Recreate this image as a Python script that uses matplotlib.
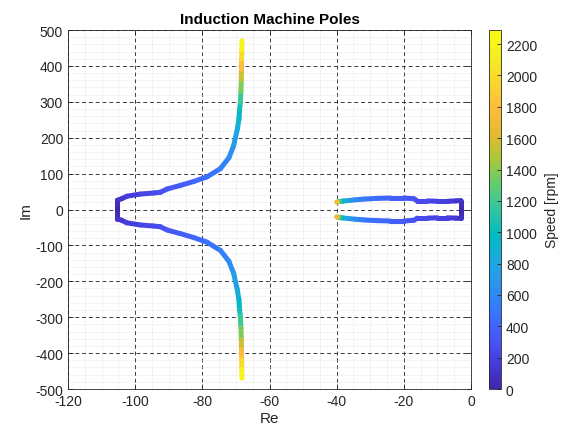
import matplotlib.pyplot as plt
import numpy as np
from matplotlib.collections import LineCollection
from matplotlib.colors import LinearSegmentedColormap, Normalize
from matplotlib.ticker import MultipleLocator

plt.rcParams["font.family"] = ["Liberation Sans", "DejaVu Sans"]
plt.rcParams["axes.unicode_minus"] = False

# upper half of each pole locus (lower half is the conjugate)
stator_re = [-105.3, -105.3, -105.3, -104.0, -102.5, -98.5, -94.5, -92.5, -90.5,
             -86.6, -82.6, -78.6, -74.6, -72.1, -70.7, -69.6, -69.1, -68.9, -68.7,
             -68.5, -68.4, -68.35, -68.3, -68.25, -68.2]
stator_im = [0, 13, 26, 30, 37, 43, 46, 48, 57, 67, 78, 91, 114, 144, 177, 223,
             251, 279, 298, 330, 363, 390, 419, 445, 470]
stator_speed = [0, 40, 80, 110, 150, 200, 240, 270, 310, 350, 400, 450, 520, 600,
                690, 810, 900, 1000, 1100, 1270, 1450, 1650, 1900, 2100, 2290]

rotor_re = [-3.0, -3.0, -3.0, -4.5, -7.0, -10.0, -13.0, -16.0, -17.0, -20.0, -24.0,
            -28.0, -32.0, -34.5, -36.5, -38.2, -39.3, -39.8, -40.0, -40.0]
rotor_im = [0, 12, 25, 24, 23, 23, 24, 24, 30, 32, 32, 31, 29, 27, 25, 23.5, 22,
            21, 20.5, 20]
rotor_speed = [0, 40, 80, 110, 150, 190, 230, 260, 290, 330, 380, 430, 500, 580,
               700, 880, 1100, 1500, 1900, 2290]

speed_max = 2290
cbar_ticks = list(range(0, 2201, 200))

# MATLAB parula (R2014b), subset of rows
parula_rows = [
    (0.2422, 0.1504, 0.6603), (0.2751, 0.2342, 0.8710), (0.2795, 0.3447, 0.9717),
    (0.2206, 0.4603, 0.9973), (0.1687, 0.5703, 0.9359), (0.1113, 0.6635, 0.8763),
    (0.0067, 0.7312, 0.7660), (0.1938, 0.7758, 0.6251), (0.3909, 0.8029, 0.4354),
    (0.6720, 0.7793, 0.2227), (0.9035, 0.7330, 0.1774), (0.9956, 0.7434, 0.2371),
    (0.9786, 0.8386, 0.1766), (0.9628, 0.9373, 0.1265), (0.9769, 0.9839, 0.0805),
]
parula = LinearSegmentedColormap.from_list("parula", parula_rows, N=256)
norm = Normalize(0, speed_max)

txt = (0.15, 0.15, 0.15)

fig = plt.figure(figsize=(5.61, 4.35), dpi=100)
ax = fig.add_axes([0.1212, 0.1034, 0.7184, 0.8253])


def add_branch(re, im, speed):
    pts = np.column_stack([re, im])
    segs = np.stack([pts[:-1], pts[1:]], axis=1)
    sp = np.asarray(speed, dtype=float)
    mid = (sp[:-1] + sp[1:]) / 2
    lc = LineCollection(segs, cmap=parula, norm=norm, linewidths=3.6,
                        capstyle="round", joinstyle="round", zorder=3)
    lc.set_array(mid)
    ax.add_collection(lc)


for sign in (1, -1):
    add_branch(stator_re, sign * np.asarray(stator_im), stator_speed)
    add_branch(rotor_re, sign * np.asarray(rotor_im), rotor_speed)

ax.set_xlim(-120, 0)
ax.set_ylim(-500, 500)
ax.xaxis.set_major_locator(MultipleLocator(20))
ax.yaxis.set_major_locator(MultipleLocator(100))
ax.xaxis.set_minor_locator(MultipleLocator(5))
ax.yaxis.set_minor_locator(MultipleLocator(20))

ax.grid(which="major", linestyle=(0, (4, 3)), color="#3a3a3a", linewidth=0.7)
ax.grid(which="minor", linestyle=(0, (1, 1.5)), color="#d8d8d8", linewidth=0.5)
ax.set_axisbelow(True)

ax.tick_params(which="major", direction="in", length=3.5, width=0.6,
               top=True, right=True, labelsize=10, colors=txt)
ax.tick_params(which="minor", length=0)
for s in ax.spines.values():
    s.set_color("#262626")
    s.set_linewidth(0.6)

ax.set_title("Induction Machine Poles", fontsize=11, fontweight="bold", pad=5)
ax.set_xlabel("Re", fontsize=11, color=txt, labelpad=2)
ax.set_ylabel("Im", fontsize=11, color=txt, labelpad=2)

cax = fig.add_axes([0.8717, 0.1034, 0.0214, 0.8253])
sm = plt.cm.ScalarMappable(norm=norm, cmap=parula)
cb = fig.colorbar(sm, cax=cax, ticks=cbar_ticks)
cax.tick_params(direction="in", length=3, width=0.6, labelsize=10, colors=txt)
cb.outline.set_edgecolor("#262626")
cb.outline.set_linewidth(0.6)
cb.set_label("Speed [rpm]", fontsize=10, color=txt, labelpad=6)

fig.savefig("out.png", dpi=100)
